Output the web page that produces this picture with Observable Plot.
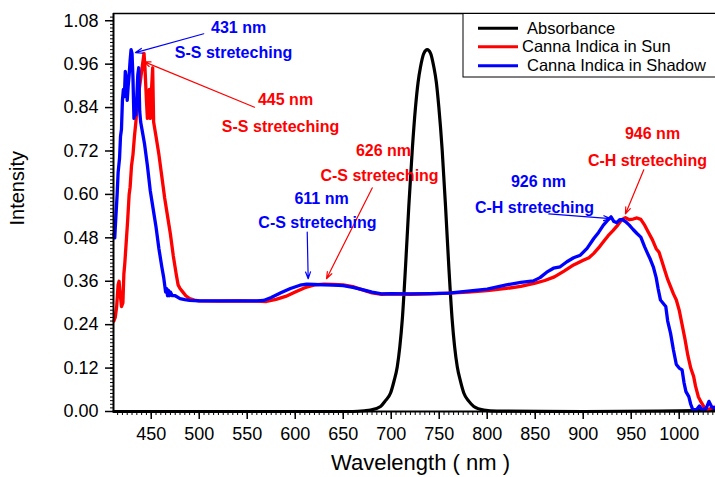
<!DOCTYPE html>
<html>
<head>
<meta charset="utf-8">
<script src="https://cdn.jsdelivr.net/npm/d3@7"></script>
<script src="https://cdn.jsdelivr.net/npm/@observablehq/plot@0.6"></script>
<style>
  html, body { margin: 0; padding: 0; background: #fff; }
  svg { display: block; }
</style>
</head>
<body>
<div id="chart"></div>
<script>
// ---------- data ----------
const absNm  = [411, 500, 600, 660, 672, 678.4, 688.9, 694, 699.3, 703, 706.3, 709, 711.5, 714.9, 718.3, 721.9, 725.3, 728, 730.5, 734, 737.5, 741, 744.4, 747, 749.6, 753.1, 756.6, 760, 763.5, 766, 768.8, 772, 775.6, 781, 786, 796.5, 810, 900, 1000, 1037];
const absVal = [0, 0, 0, 0, 0.002, 0.004, 0.014, 0.03, 0.051, 0.085, 0.124, 0.18, 0.253, 0.40, 0.566, 0.722, 0.841, 0.91, 0.952, 0.99, 1.0, 0.99, 0.952, 0.91, 0.841, 0.722, 0.566, 0.40, 0.253, 0.18, 0.124, 0.085, 0.051, 0.028, 0.014, 0.004, 0.001, 0, 0.002, 0.003];

const sunNm  = [411, 412.5, 414, 415.5, 416.5, 417.5, 419, 420.5, 421.5, 422.5, 424, 425.5, 427, 428, 429.5, 431, 432.5, 434, 435.5, 437, 438.5, 440, 441.5, 442.5, 443.5, 445, 446, 447, 448, 449, 450.5, 451.5, 452.5, 455, 458, 461, 464, 467, 470, 473, 476, 478, 480, 483, 486, 490, 495, 500, 520, 540, 560, 570, 580, 590, 600, 610, 620, 630, 640, 650, 660, 670, 680, 690, 700, 720, 740, 760, 780, 800, 820, 835, 850, 860, 870, 880, 890, 900, 906, 911, 916, 921, 926, 931, 936, 940, 944, 948, 952, 956, 960, 964, 968, 972, 976, 979, 982, 985, 988, 991, 994, 997, 1000, 1003, 1006, 1009, 1012, 1015, 1017, 1020, 1023, 1026, 1030, 1034, 1037];
const sunVal = [0.25, 0.26, 0.29, 0.35, 0.36, 0.33, 0.29, 0.30, 0.38, 0.41, 0.47, 0.53, 0.60, 0.62, 0.68, 0.71, 0.76, 0.80, 0.85, 0.88, 0.91, 0.94, 0.97, 0.99, 0.95, 0.86, 0.81, 0.85, 0.89, 0.81, 0.90, 0.95, 0.80, 0.76, 0.71, 0.65, 0.59, 0.54, 0.49, 0.43, 0.38, 0.35, 0.34, 0.33, 0.32, 0.312, 0.308, 0.306, 0.305, 0.306, 0.305, 0.304, 0.31, 0.318, 0.33, 0.342, 0.35, 0.352, 0.351, 0.35, 0.345, 0.336, 0.328, 0.324, 0.325, 0.324, 0.325, 0.327, 0.33, 0.334, 0.34, 0.346, 0.355, 0.362, 0.372, 0.388, 0.405, 0.418, 0.425, 0.437, 0.452, 0.469, 0.486, 0.50, 0.515, 0.53, 0.536, 0.53, 0.532, 0.535, 0.531, 0.515, 0.495, 0.475, 0.45, 0.44, 0.415, 0.39, 0.365, 0.345, 0.325, 0.308, 0.28, 0.24, 0.20, 0.155, 0.12, 0.097, 0.07, 0.04, 0.025, 0.012, 0.005, 0.01, 0.012];

const shadeNm  = [411, 412, 413, 414.5, 415.5, 417, 418, 419, 420, 421, 422, 423, 424, 425, 426, 427, 428, 429, 430, 431, 432, 433, 434, 435, 436, 437, 438, 439, 441, 443, 446, 449, 452, 455, 458, 461, 463, 465, 466, 467, 468, 469, 470, 472, 475, 480, 485, 490, 500, 520, 540, 560, 567, 575, 585, 595, 605, 612, 620, 630, 640, 650, 660, 670, 680, 690, 700, 720, 740, 760, 780, 800, 820, 835, 848, 855, 862, 869, 876, 883, 890, 897, 904, 911, 916, 921, 926, 929, 932, 935, 938, 941, 944, 948, 952, 956, 960, 964, 967, 970, 973, 976, 978, 980.5, 983, 986, 988, 991, 994, 997, 1000, 1003, 1005, 1007, 1010, 1012, 1014, 1018, 1021, 1024, 1028, 1031, 1034, 1037];
const shadeVal = [0.49, 0.48, 0.53, 0.60, 0.66, 0.70, 0.76, 0.78, 0.86, 0.89, 0.87, 0.94, 0.92, 0.86, 0.90, 0.93, 0.97, 1.0, 0.99, 0.92, 0.81, 0.84, 0.82, 0.87, 0.93, 0.95, 0.83, 0.80, 0.77, 0.74, 0.68, 0.61, 0.56, 0.51, 0.45, 0.40, 0.37, 0.33, 0.34, 0.32, 0.335, 0.32, 0.33, 0.32, 0.32, 0.312, 0.309, 0.307, 0.306, 0.306, 0.306, 0.306, 0.307, 0.315, 0.328, 0.34, 0.349, 0.352, 0.351, 0.35, 0.349, 0.348, 0.343, 0.337, 0.33, 0.325, 0.326, 0.325, 0.326, 0.327, 0.333, 0.338, 0.35, 0.357, 0.361, 0.37, 0.385, 0.396, 0.40, 0.414, 0.425, 0.432, 0.451, 0.478, 0.495, 0.515, 0.53, 0.538, 0.525, 0.522, 0.53, 0.53, 0.525, 0.515, 0.503, 0.492, 0.482, 0.455, 0.437, 0.42, 0.40, 0.37, 0.34, 0.308, 0.30, 0.29, 0.25, 0.216, 0.17, 0.13, 0.12, 0.115, 0.08, 0.055, 0.041, 0.02, 0.006, 0.005, 0.015, 0.005, 0.008, 0.028, 0.012, 0.01];

const xTicks = [450, 500, 550, 600, 650, 700, 750, 800, 850, 900, 950, 1000];
const yTicks = [0, 0.12, 0.24, 0.36, 0.48, 0.60, 0.72, 0.84, 0.96, 1.08];

const legendLabels = ["Absorbance", "Canna Indica in Sun", "Canna Indica in Shadow"];
const legendColors = ["#000000", "#ff0000", "#0000ff"];

// annotation texts (label, x, y, colour)
const noteText  = ["431 nm", "S-S streteching", "445 nm", "S-S streteching", "626 nm", "C-S streteching", "611 nm", "C-S streteching", "926 nm", "C-H streteching", "946 nm", "C-H streteching"];
const noteX     = [541, 535.7, 589.9, 584.7, 691.9, 687.8, 627.4, 623.2, 853.4, 849.3, 972.2, 967];
const noteY     = [1.059, 0.99, 0.86, 0.788, 0.719, 0.65, 0.589, 0.52, 0.636, 0.562, 0.768, 0.694];
const noteColor = ["#0000ff", "#0000ff", "#ff0000", "#ff0000", "#ff0000", "#ff0000", "#0000ff", "#0000ff", "#0000ff", "#0000ff", "#ff0000", "#ff0000"];

// annotation arrows (from -> to)
const arrX1 = [504.7, 557.6, 680.2, 612.5, 864.2, 963.1];
const arrY1 = [1.044, 0.841, 0.618, 0.496, 0.546, 0.668];
const arrX2 = [433.6, 442.3, 632.6, 613.5, 928.4, 944.0];
const arrY2 = [0.992, 0.967, 0.367, 0.367, 0.533, 0.546];
const arrColor = ["#0000ff", "#ff0000", "#ff0000", "#0000ff", "#0000ff", "#ff0000"];

// ---------- build tables ----------
const absData   = absNm.map((x, i) => ({x, y: absVal[i]}));
const sunData   = sunNm.map((x, i) => ({x, y: sunVal[i]}));
const shadeData = shadeNm.map((x, i) => ({x, y: shadeVal[i]}));
const notes  = noteText.map((t, i) => ({t, x: noteX[i], y: noteY[i], c: noteColor[i]}));
const arrows = arrX1.map((x1, i) => ({x1, y1: arrY1[i], x2: arrX2[i], y2: arrY2[i], c: arrColor[i]}));
const xMinor = d3.range(415, 1036, 5);
const yMinor = d3.range(0, 110).map(i => i / 100);

const xDomain = [410.7, 1037.8];
const yDomain = [0, 1.1];

const chart = Plot.plot({
  width: 715,
  height: 477,
  marginLeft: 113,
  marginRight: 0,
  marginTop: 13,
  marginBottom: 66,
  style: {fontFamily: "'Liberation Sans', Arial, sans-serif", fontSize: "18px", background: "#fff", color: "#000"},
  x: {domain: xDomain, label: null},
  y: {domain: yDomain, label: null},
  marks: [
    Plot.axisY(yMinor, {tickSize: 3, tickFormat: () => "", strokeWidth: 1}),
    Plot.axisY(yTicks, {tickSize: 8, tickPadding: 7, tickFormat: d3.format(".2f"), strokeWidth: 1.5, fontSize: 18}),
    Plot.axisX(xMinor, {tickSize: 4, tickFormat: () => "", strokeWidth: 1}),
    Plot.axisX(xTicks, {tickSize: 8, tickPadding: 8, tickFormat: d => String(d), strokeWidth: 1.5, fontSize: 18}),
    Plot.line(absData, {x: "x", y: "y", stroke: "#000", strokeWidth: 3.2, curve: "monotone-x"}),
    Plot.line(sunData, {x: "x", y: "y", stroke: "#ff0000", strokeWidth: 3.3, strokeLinejoin: "round"}),
    Plot.line(shadeData, {x: "x", y: "y", stroke: "#0000ff", strokeWidth: 3.3, strokeLinejoin: "round"}),
    Plot.ruleY([yDomain[0]], {stroke: "#000", strokeWidth: 2}),
    Plot.ruleY([yDomain[1]], {stroke: "#000", strokeWidth: 1.3}),
    Plot.ruleX([xDomain[0]], {stroke: "#000", strokeWidth: 2}),
    Plot.arrow(arrows, {x1: "x1", y1: "y1", x2: "x2", y2: "y2", stroke: "c", strokeWidth: 1.2, headLength: 9, headAngle: 40}),
    Plot.text(notes, {x: "x", y: "y", text: "t", fill: "c", fontWeight: "bold", fontSize: 16}),
    Plot.text(["Wavelength ( nm )"], {frameAnchor: "bottom", dx: 6, dy: 58, fontSize: 22}),
    Plot.text(["Intensity"], {frameAnchor: "left", dx: -95.5, dy: 13, rotate: -90, fontSize: 20})
  ]
});

document.getElementById("chart").appendChild(chart);

// ---------- legend box inside the plot area ----------
const svg = d3.select(chart);
const lg = svg.append("g")
  .attr("font-family", "'Liberation Sans', Arial, sans-serif")
  .attr("font-size", 16.5)
  .attr("text-anchor", "start");
lg.append("rect").attr("x", 463).attr("y", 13.5).attr("width", 260).attr("height", 63.5)
  .attr("fill", "#fff").attr("stroke", "#000").attr("stroke-width", 1);
const rowY = [28.3, 46.7, 65.7];
const textX = [527, 522, 527];
legendLabels.forEach((lab, i) => {
  lg.append("line").attr("x1", 478).attr("x2", 518).attr("y1", rowY[i]).attr("y2", rowY[i])
    .attr("stroke", legendColors[i]).attr("stroke-width", 3);
  lg.append("text").attr("x", textX[i]).attr("y", rowY[i]).attr("dy", "0.35em")
    .attr("text-anchor", "start").attr("fill", "#000").text(lab);
});
</script>
</body>
</html>
